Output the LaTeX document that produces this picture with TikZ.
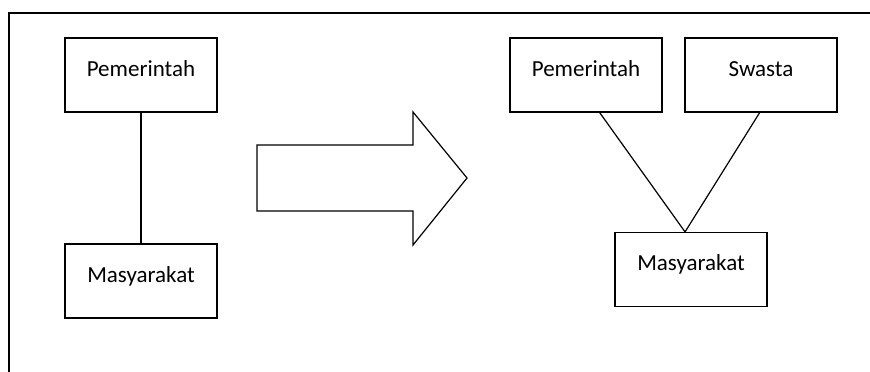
\documentclass[tikz,border=0pt]{standalone}
\usepackage{fontspec}
\setmainfont{Carlito}
\usepackage{tikz}
\tikzset{
  kotak/.style={draw, line width=1.2pt, minimum width=152pt, minimum height=74pt,
    inner sep=0pt, text height=14pt, text depth=12pt, font=\fontsize{23}{25}\selectfont},
  garis/.style={line width=1.2pt}
}

\begin{document}
\begin{tikzpicture}[x=1pt,y=-1pt]
            \useasboundingbox (0,0) rectangle (870,372);
            % Bingkai
            \draw[garis] (870,13) -- (9,13) -- (9,372);
            
            % Pola lama
            \node[kotak] (pl) at (141,75) {Pemerintah};
            \node[kotak] (ml) at (141,281) {Masyarakat};
            \draw[garis] (pl.south) -- (ml.north);
            
            % Panah
            \draw[garis, line join=miter] (257,145) -- (413,145) -- (413,112) -- (467,178)
              -- (413,245) -- (413,211) -- (257,211) -- cycle;
            
            % Pola baru
            \node[kotak] (pr) at (586,75) {Pemerintah};
            \node[kotak] (sw) at (761,75) {Swasta};
            \node[kotak] (mr) at (691,269.5) {Masyarakat};
            
            % Garis
            \draw[garis] (pr.-70.6) -- (mr.99);
            \draw[garis] (sw.-92.3) -- (mr.99);
        \end{tikzpicture}
\end{document}
